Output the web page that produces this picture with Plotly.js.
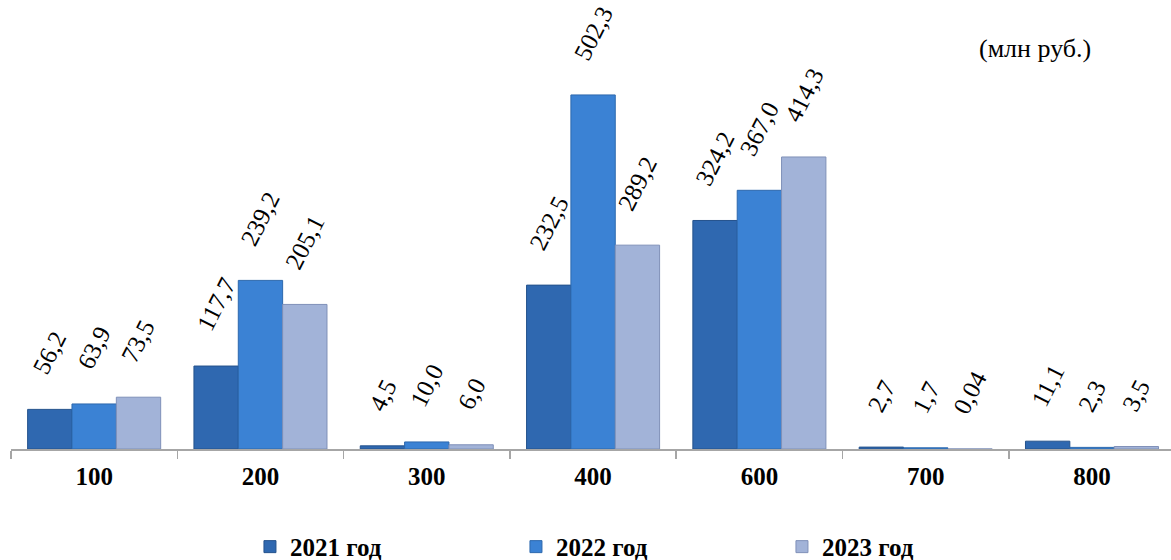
<!DOCTYPE html>
<html>
<head>
<meta charset="utf-8">
<script src="https://cdn.plot.ly/plotly-3.0.1.min.js"></script>
<style>html,body{margin:0;padding:0;background:#fff}</style>
</head>
<body>
<div id="chart" style="width:1171px;height:560px"></div>
<script>
const categories = ["100", "200", "300", "400", "600", "700", "800"];
const seriesNames = ["2021 год", "2022 год", "2023 год"];
const values2021 = [56.2, 117.7, 4.5, 232.5, 324.2, 2.7, 11.1];
const values2022 = [63.9, 239.2, 10.0, 502.3, 367.0, 1.7, 2.3];
const values2023 = [73.5, 205.1, 6.0, 289.2, 414.3, 0.04, 3.5];
const unitLabel = "(млн руб.)";

const allValues = [values2021, values2022, values2023];
const colors = ["#2f68b0", "#3b82d4", "#a2b3d8"];
const lineColors = ["#24528c", "#2d68ad", "#7f90b8"];
const serif = "'Liberation Serif', 'Times New Roman', serif";

function fmt(v) {
  return v.toFixed(v < 0.1 ? 2 : 1).replace(".", ",");
}

const traces = allValues.map((vals, i) => ({
  type: "bar",
  name: seriesNames[i],
  x: categories,
  y: vals,
  marker: { color: colors[i], line: { color: lineColors[i], width: 1 } },
  hoverinfo: "skip"
}));

const annotations = [];
const barPx = 44.3;
allValues.forEach((vals, i) => {
  vals.forEach((v, j) => {
    annotations.push({
      x: j, y: v, xref: "x", yref: "y",
      text: fmt(v), showarrow: false,
      xshift: (i - 1) * barPx, yshift: 28,
      yanchor: "bottom", xanchor: "center",
      textangle: -63,
      font: { family: serif, size: 25, color: "#000" }
    });
  });
});
annotations.push({
  xref: "paper", yref: "paper", x: 0.883, y: 0.891,
  xanchor: "center", yanchor: "middle",
  text: unitLabel, showarrow: false,
  font: { family: serif, size: 26, color: "#000" }
});

const layout = {
  width: 1171, height: 560,
  margin: { l: 11, r: 0, t: 0, b: 111, autoexpand: false },
  paper_bgcolor: "#fff", plot_bgcolor: "#fff",
  barmode: "group", bargap: 0.2, bargroupgap: 0,
  showlegend: true,
  legend: {
    orientation: "h", x: 0.206, xanchor: "left", y: -0.218, yanchor: "middle",
    font: { family: serif, size: 25, color: "#000", weight: "bold" },
    entrywidth: 221, entrywidthmode: "pixels", itemwidth: 30,
    traceorder: "normal"
  },
  xaxis: {
    type: "category", range: [-0.5, 6.475], automargin: false,
    showline: true, linecolor: "#a6a6a6", linewidth: 1.5,
    ticks: "outside", tickson: "boundaries", ticklen: 8, tickcolor: "#a6a6a6", tickwidth: 1.5,
    tickfont: { family: serif, size: 25, color: "#000", weight: "bold" },
    ticklabelstandoff: 4,
    showgrid: false, zeroline: false, fixedrange: true
  },
  yaxis: { range: [0, 637], visible: false, automargin: false, showgrid: false, zeroline: false, fixedrange: true },
  annotations: annotations
};

Plotly.newPlot("chart", traces, layout, { displayModeBar: false, staticPlot: true });
</script>
</body>
</html>
